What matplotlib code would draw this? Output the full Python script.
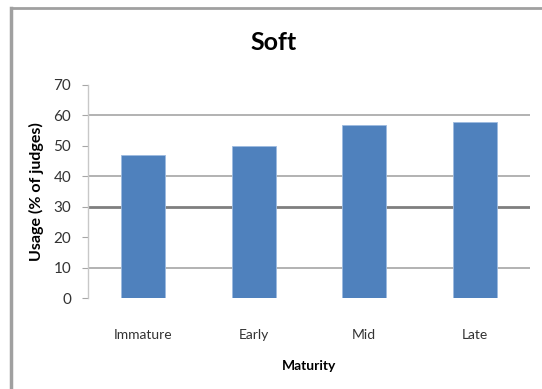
import numpy as np
import matplotlib.pyplot as plt
from matplotlib.lines import Line2D

# data
categories = ['Immature', 'Early', 'Mid', 'Late']
usage = [47, 50, 57, 58]
yticks = [0, 10, 20, 30, 40, 50, 60, 70]
grid_light = [10, 40, 60]
grid_dark = [30]

plt.rcParams['font.family'] = ['Lato', 'DejaVu Sans']

fig = plt.figure(figsize=(5.42, 3.89), dpi=100)
ax = fig.add_axes([0.1624, 0.2339, 0.8155, 0.5476])

x = np.arange(len(categories))
ax.bar(x, usage, width=0.4, color='#4f81bd', edgecolor='#9dbbe0', linewidth=0.6, zorder=3)

for g in grid_light:
    ax.axhline(g, color='#a6a6a6', lw=1.2, zorder=1)
for g in grid_dark:
    ax.axhline(g, color='#7f7f7f', lw=2.0, zorder=1)

ax.set_xlim(-0.5, 3.5)
ax.set_ylim(0, 70)
ax.set_yticks(yticks)
ax.set_xticks(x)
ax.set_xticklabels(categories, fontsize=10, color='#333333')
ax.tick_params(axis='y', labelsize=11, labelcolor='#333333', length=4, color='#a6a6a6', pad=8)
ax.tick_params(axis='x', length=0, pad=22)

for s in ['top', 'right', 'bottom']:
    ax.spines[s].set_visible(False)
ax.spines['left'].set_color('#c8c8c8')
ax.spines['left'].set_linewidth(1.0)

fig.text(0.5055, 0.892, 'Soft', fontsize=18, fontweight='bold', ha='center', va='center')
ax.set_ylabel('Usage (% of judges)', fontsize=11.5, fontweight='bold', labelpad=7)
ax.set_xlabel('Maturity', fontsize=10, fontweight='bold', labelpad=14)

# outer frame (top and left edges only)
fig.add_artist(Line2D([0.0203, 1.0], [0.979, 0.979], transform=fig.transFigure, color='#a0a0a0', lw=2))
fig.add_artist(Line2D([0.0203, 0.0203], [0.0, 0.979], transform=fig.transFigure, color='#a0a0a0', lw=2.5))

fig.savefig('out.png', dpi=100, facecolor='white')
